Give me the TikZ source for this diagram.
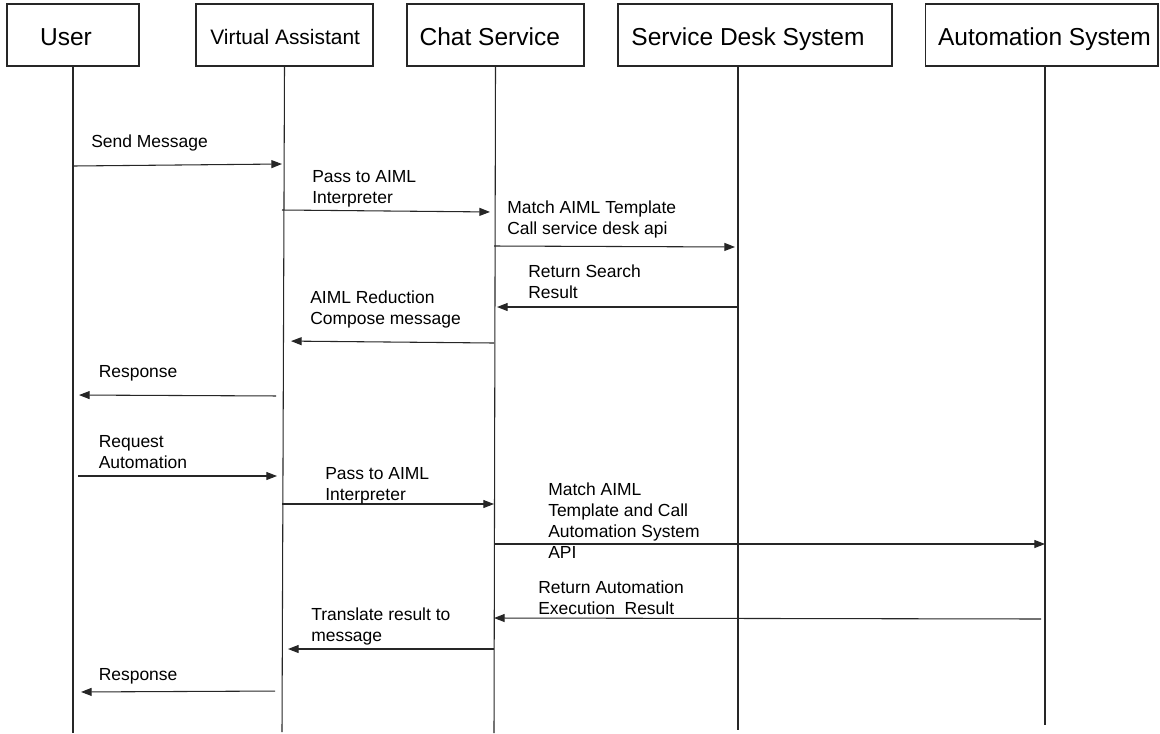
\documentclass[tikz,border=0pt]{standalone}
\usepackage{fontspec}
\setmainfont{Liberation Sans}
\usetikzlibrary{arrows.meta}

% header text nudged inside its box: #1 = drop below centre, #2 = pad on the right, #3 = text
\newcommand{\hdtext}[3]{\raisebox{-#1}[0pt][0pt]{#3}\hspace*{#2}}

\tikzset{
  actor/.style={draw=black!85, line width=0.8pt, minimum height=46.5pt, inner sep=0pt,
    font=\fontsize{18.4}{22}\selectfont},
  lifeline/.style={draw=black!85, line width=0.8pt},
  msg/.style={draw=black!85, line width=0.8pt, -{Triangle[length=8pt,width=6pt]}},
  lbl/.style={anchor=north west, inner sep=0pt, align=left,
    font=\fontsize{13.1}{15.75}\selectfont}
}

\begin{document}
\begin{tikzpicture}[x=0.75pt, y=-0.75pt]
  \useasboundingbox (0,0) rectangle (1160,733);

  % participants
  \node[actor, minimum width=99pt] (user) at (73,35) {\hdtext{8.1pt}{10.5pt}{User}};
  \node[actor, minimum width=132.75pt, font=\fontsize{15.7}{19}\selectfont] (va) at (284.5,35) {\hdtext{7.1pt}{-1pt}{Virtual Assistant}};
  \node[actor, minimum width=132.75pt] (chat) at (495.5,35) {\hdtext{8.1pt}{8.5pt}{Chat Service}};
  \node[actor, minimum width=205.5pt] (sds) at (755,35) {\hdtext{8.1pt}{10.5pt}{Service Desk System}};
  \node[actor, minimum width=174.4pt] (auto) at (1041.75,35) {\hdtext{8.1pt}{-4pt}{Automation System}};

  % lifelines
  \coordinate (uEnd) at (73,733);
  \coordinate (vEnd) at (282,732);
  \coordinate (cEnd) at (494,733);
  \coordinate (sEnd) at (738,730);
  \coordinate (aEnd) at (1045,725);
  \draw[lifeline] (user.south) -- (uEnd);
  \draw[lifeline] (va.south) -- (vEnd);
  \draw[lifeline] (chat.south) -- (cEnd);
  \draw[lifeline] (sds.south -| sEnd) -- (sEnd);
  \draw[lifeline] (auto.south -| aEnd) -- (aEnd);

  % first request
  \draw[msg] (uEnd |- 0,166) -- (vEnd |- 0,164);
  \node[lbl] (m1) at (91,135) {Send Message};
  \draw[msg, shorten >=3pt] (vEnd |- 0,210) -- (cEnd |- 0,212);
  \node[lbl] (m2) at (312,170) {Pass to AIML\\Interpreter};
  \draw[msg, shorten >=2.25pt] (cEnd |- 0,246) -- (sEnd |- 0,247);
  \node[lbl] (m3) at (507,201) {Match AIML Template\\Call service desk api};
  \draw[msg, shorten >=2.25pt] (sEnd |- 0,307) -- (cEnd |- 0,307);
  \node[lbl] (m4) at (528,265) {Return Search\\Result};
  \draw[msg, shorten >=6.75pt] (cEnd |- 0,343) -- (vEnd |- 0,341);
  \node[lbl] (m5) at (310,291) {AIML Reduction\\Compose message};
  \draw[msg, shorten <=4.5pt, shorten >=4.5pt] (vEnd |- 0,396) -- (uEnd |- 0,395);
  \node[lbl] (m6) at (98.5,365) {Response};

  % automation request
  \draw[msg, shorten <=3.75pt, shorten >=3.75pt] (uEnd |- 0,476) -- (vEnd |- 0,476);
  \node[lbl] (m7) at (98.5,435) {Request\\Automation};
  \draw[msg] (vEnd |- 0,504) -- (cEnd |- 0,504);
  \node[lbl] (m8) at (325,467) {Pass to AIML\\Interpreter};
  \draw[msg] (cEnd |- 0,544) -- (aEnd |- 0,544);
  \node[lbl] (m9) at (548,483) {Match AIML\\Template and Call\\Automation System\\API};
  \draw[msg, shorten <=3pt] (aEnd |- 0,619) -- (cEnd |- 0,618);
  \node[lbl] (m10) at (538,581) {Return Automation\\Execution\ \ Result};
  \draw[msg, shorten >=4.5pt] (cEnd |- 0,649) -- (vEnd |- 0,649);
  \node[lbl] (m11) at (311,608) {Translate result to\\message};
  \draw[msg, shorten <=5.25pt, shorten >=6pt] (vEnd |- 0,691) -- (uEnd |- 0,692);
  \node[lbl] (m12) at (98.5,668) {Response};
\end{tikzpicture}
\end{document}
